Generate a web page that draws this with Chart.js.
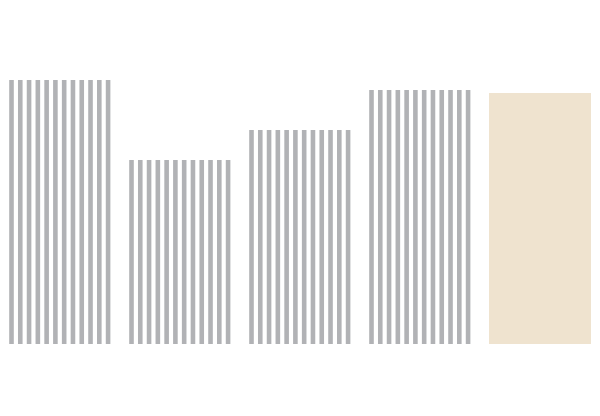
<!DOCTYPE html>
<html>
<head>
<meta charset="utf-8">
<script src="https://cdn.jsdelivr.net/npm/chart.js@4.4.1/dist/chart.umd.min.js"></script>
<style>
  html, body { margin: 0; padding: 0; background: #ffffff; }
  #wrap { width: 600px; height: 416px; }
</style>
</head>
<body>
<div id="wrap"><canvas id="barsChart"></canvas></div>
<script>
const categories = ['A', 'B', 'C', 'D', 'E'];
const values = [100, 69.7, 81.1, 96.2, 95.1];
const striped = [true, true, true, true, false];

const stripeColor = '#b1b2b5';
const solidColor = '#efe3cf';

// vertical stripe pattern, aligned to each bar's left edge
function stripes(left, width) {
  const c = document.createElement('canvas');
  c.width = Math.ceil(width);
  c.height = 4;
  const g = c.getContext('2d');
  g.fillStyle = stripeColor;
  const period = 8.78;
  for (let x = 0.2; x + 3 < width; x += period) {
    g.fillRect(x, 0, 4.6, 4);
  }
  const p = g.createPattern(c, 'repeat-y');
  p.setTransform(new DOMMatrix().translate(left, 0));
  return p;
}

const ctx = document.getElementById('barsChart').getContext('2d');

const barsChart = new Chart(ctx, {
  type: 'bar',
  data: {
    labels: categories,
    datasets: [{
      data: values,
      backgroundColor: (c) => {
        if (!striped[c.dataIndex]) return solidColor;
        const x = c.chart.scales.x;
        if (!x || !(x.width > 10)) return stripeColor;
        const w = x.width / categories.length * 0.85;
        const left = x.getPixelForValue(c.dataIndex) - w / 2;
        return stripes(left, w);
      },
      borderWidth: 0,
      barPercentage: 0.85,
      categoryPercentage: 1
    }]
  },
  options: {
    responsive: true,
    maintainAspectRatio: false,
    animation: false,
    layout: { padding: { top: 80, bottom: 72, left: 0, right: 0 } },
    scales: {
      x: { display: false },
      y: { display: false, min: 0, max: 100 }
    },
    plugins: {
      legend: { display: false },
      tooltip: { enabled: false }
    }
  }
});
</script>
</body>
</html>
